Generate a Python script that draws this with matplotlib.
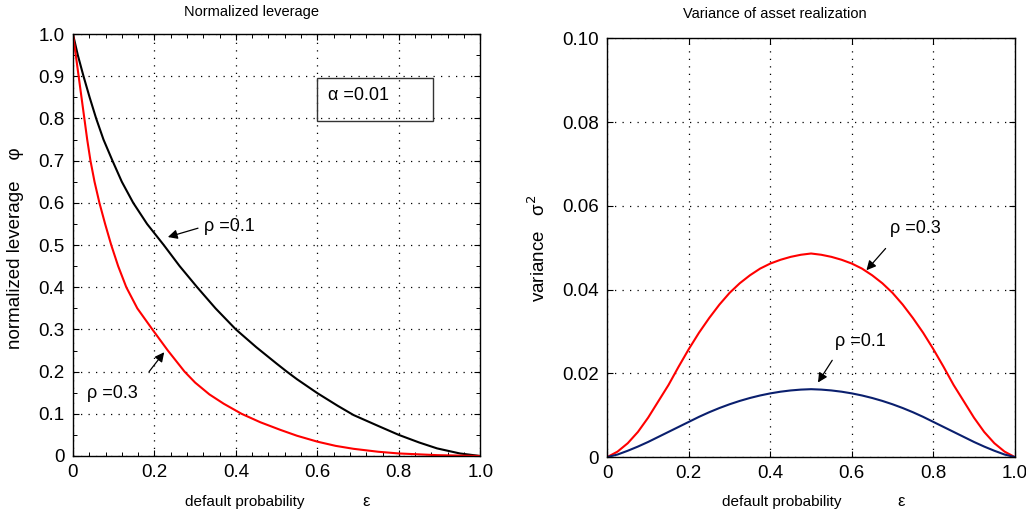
import matplotlib
matplotlib.use('Agg')
import matplotlib.pyplot as plt
import matplotlib.patches as patches
from matplotlib.ticker import MultipleLocator

plt.rcParams['font.family'] = ['Liberation Sans', 'DejaVu Sans']

# Left panel: normalized leverage phi vs default probability eps
eps_rho01 = [0, 0.012, 0.026, 0.041, 0.057, 0.075, 0.097, 0.120, 0.148, 0.182,
             0.223, 0.262, 0.305, 0.35, 0.400, 0.45, 0.5, 0.525, 0.55, 0.6,
             0.65, 0.689, 0.75, 0.8, 0.85, 0.894, 0.95, 1.0]
phi_rho01 = [1.0, 0.95, 0.9, 0.85, 0.8, 0.75, 0.7, 0.65, 0.6, 0.55,
             0.5, 0.45, 0.4, 0.35, 0.3, 0.258, 0.219, 0.2, 0.182, 0.149,
             0.119, 0.097, 0.071, 0.05, 0.032, 0.018, 0.006, 0.0]
eps_rho03 = [0, 0.007, 0.014, 0.021, 0.028, 0.035, 0.043, 0.053, 0.065, 0.079,
             0.094, 0.111, 0.131, 0.158, 0.195, 0.233, 0.274, 0.30, 0.335, 0.37,
             0.414, 0.46, 0.509, 0.55, 0.6, 0.645, 0.689, 0.75, 0.8, 0.894, 1.0]
phi_rho03 = [1.0, 0.95, 0.9, 0.85, 0.8, 0.75, 0.7, 0.65, 0.6, 0.55,
             0.5, 0.45, 0.4, 0.35, 0.3, 0.25, 0.2, 0.174, 0.146, 0.124,
             0.1, 0.08, 0.062, 0.048, 0.034, 0.024, 0.017, 0.010, 0.006, 0.002, 0.0]

# Right panel: variance sigma^2 vs eps
eps_var = [0, 0.025, 0.05, 0.075, 0.1, 0.125, 0.15, 0.175, 0.2, 0.225,
           0.25, 0.275, 0.3, 0.325, 0.35, 0.375, 0.4, 0.425, 0.45, 0.475,
           0.5, 0.525, 0.55, 0.575, 0.6, 0.625, 0.65, 0.675, 0.7, 0.725,
           0.75, 0.775, 0.8, 0.825, 0.85, 0.875, 0.9, 0.925, 0.95, 0.975, 1.0]
var_rho03 = [0, 0.0013, 0.0033, 0.0060, 0.0094, 0.0133, 0.0172, 0.0216, 0.0258, 0.0297,
             0.0332, 0.0364, 0.0392, 0.0415, 0.0434, 0.0450, 0.0462, 0.0471, 0.0478, 0.0483,
             0.0486, 0.0483, 0.0478, 0.0471, 0.0462, 0.0450, 0.0434, 0.0415, 0.0392, 0.0364,
             0.0332, 0.0297, 0.0258, 0.0216, 0.0172, 0.0133, 0.0094, 0.0060, 0.0033, 0.0013, 0]
var_rho01 = [0, 0.0006, 0.0015, 0.0025, 0.0036, 0.0048, 0.0060, 0.0072, 0.0084, 0.0096,
             0.0107, 0.0117, 0.0126, 0.0134, 0.0141, 0.0147, 0.0152, 0.0156, 0.0159, 0.0161,
             0.0162, 0.0161, 0.0159, 0.0156, 0.0152, 0.0147, 0.0141, 0.0134, 0.0126, 0.0117,
             0.0107, 0.0096, 0.0084, 0.0072, 0.0060, 0.0048, 0.0036, 0.0025, 0.0015, 0.0006, 0]

left_yticks = [0, 0.1, 0.2, 0.3, 0.4, 0.5, 0.6, 0.7, 0.8, 0.9, 1.0]
left_ylabels = ['0', '0.1', '0.2', '0.3', '0.4', '0.5', '0.6', '0.7', '0.8', '0.9', '1.0']
xticks = [0, 0.2, 0.4, 0.6, 0.8, 1.0]
xlabels = ['0', '0.2', '0.4', '0.6', '0.8', '1.0']
right_yticks = [0, 0.02, 0.04, 0.06, 0.08, 0.10]
right_ylabels = ['0', '0.02', '0.04', '0.06', '0.08', '0.10']

fig = plt.figure(figsize=(10.26, 5.17), dpi=100)
ax1 = fig.add_axes([0.0711, 0.118, 0.397, 0.816])
ax2 = fig.add_axes([0.592, 0.116, 0.397, 0.810])


def style_axes(ax, yticks, ylabels, ymax, minor=False):
    ax.set_xlim(0, 1.0)
    ax.set_ylim(0, ymax)
    ax.set_xticks(xticks)
    ax.set_xticklabels(xlabels)
    ax.set_yticks(yticks)
    ax.set_yticklabels(ylabels)
    ax.grid(True, color='black', linestyle=(0, (1, 5)), linewidth=0.9)
    ax.tick_params(direction='in', top=True, right=True, length=4, width=0.8,
                   labelsize=13.5, pad=6)
    if minor:
        ax.xaxis.set_minor_locator(MultipleLocator(0.04))
        ax.yaxis.set_minor_locator(MultipleLocator(0.05))
        ax.tick_params(which='minor', direction='in', top=True, right=True, length=3, width=0.7)
    for sp in ax.spines.values():
        sp.set_linewidth(1.0)
        sp.set_color('black')


style_axes(ax1, left_yticks, left_ylabels, 1.0, minor=True)
style_axes(ax2, right_yticks, right_ylabels, 0.10)

line_kw = dict(lw=1.5, solid_joinstyle='round', solid_capstyle='round')
ax1.plot(eps_rho01, phi_rho01, color='black', **line_kw)
ax1.plot(eps_rho03, phi_rho03, color='#ff0000', **line_kw)

ax2.plot(eps_var, var_rho03, color='#ff0000', **line_kw)
ax2.plot(eps_var, var_rho01, color='#0a1f6e', **line_kw)

arrow = dict(arrowstyle='-|>', color='black', lw=0.9, mutation_scale=14, shrinkA=0, shrinkB=0)
ax1.annotate('', xy=(0.233, 0.519), xytext=(0.307, 0.540), arrowprops=arrow)
ax1.text(0.322, 0.545, 'ρ =0.1', fontsize=13, va='center', ha='left')
ax1.annotate('', xy=(0.224, 0.246), xytext=(0.187, 0.200), arrowprops=arrow)
ax1.text(0.034, 0.149, 'ρ =0.3', fontsize=13, va='center', ha='left')

ax1.add_patch(patches.Rectangle((0.6, 0.794), 0.285, 0.102, fill=False,
                                edgecolor='#333333', lw=1.0, zorder=3))
ax1.text(0.627, 0.855, 'α =0.01', fontsize=13, va='center', ha='left')

ax2.annotate('', xy=(0.636, 0.0446), xytext=(0.683, 0.0498), arrowprops=arrow)
ax2.text(0.693, 0.0545, 'ρ =0.3', fontsize=13, va='center', ha='left')
ax2.annotate('', xy=(0.517, 0.0178), xytext=(0.552, 0.0231), arrowprops=arrow)
ax2.text(0.558, 0.0275, 'ρ =0.1', fontsize=13, va='center', ha='left')

# titles and axis labels
fig.text(251 / 1026, 1 - 12 / 517, 'Normalized leverage', fontsize=10.5, ha='center', va='center')
fig.text(775 / 1026, 1 - 14 / 517, 'Variance of asset realization', fontsize=10.5, ha='center', va='center')

fig.text(16 / 1026, 1 - 248 / 517, 'normalized leverage    φ', fontsize=13.5, rotation=90,
         ha='center', va='center')
fig.text(538 / 1026, 1 - 248 / 517, 'variance   σ$^2$', fontsize=13.5, rotation=90,
         ha='center', va='center')

fig.text(245 / 1026, 1 - 502 / 517, 'default probability', fontsize=11, ha='center', va='center')
fig.text(366 / 1026, 1 - 502 / 517, 'ε', fontsize=12, ha='center', va='center')
fig.text(782 / 1026, 1 - 502 / 517, 'default probability', fontsize=11, ha='center', va='center')
fig.text(901 / 1026, 1 - 502 / 517, 'ε', fontsize=12, ha='center', va='center')

fig.savefig('out.png', dpi=100)
